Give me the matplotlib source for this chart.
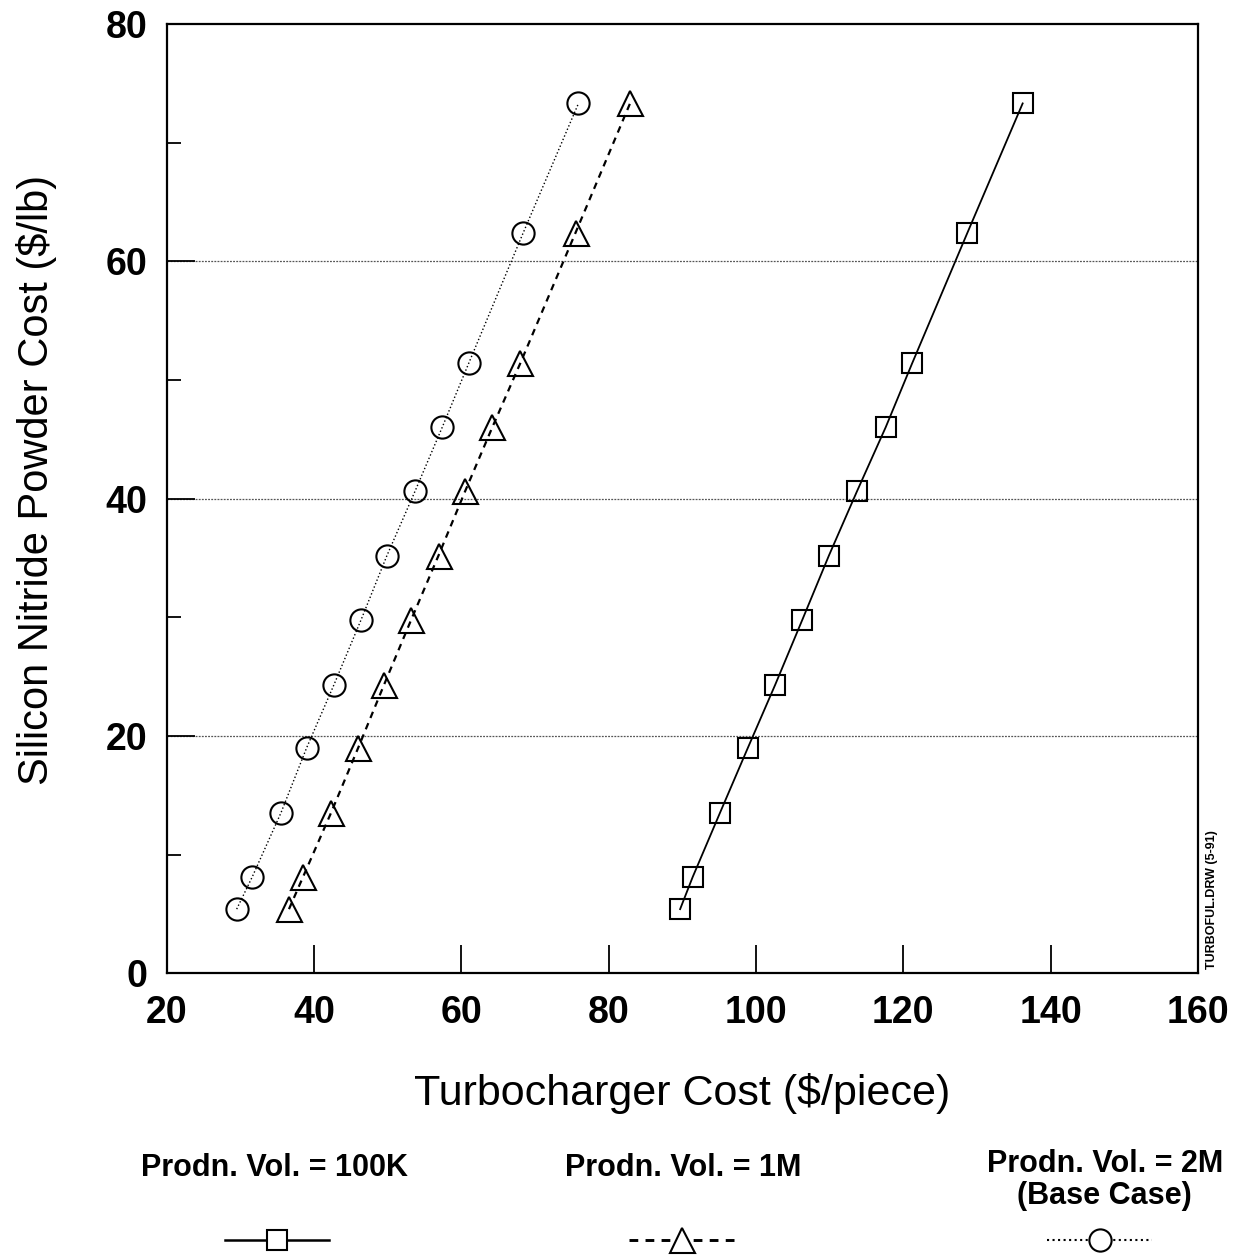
import matplotlib.pyplot as plt
from matplotlib.lines import Line2D
from matplotlib.ticker import MultipleLocator

plt.rcParams['font.family'] = ['Liberation Sans', 'DejaVu Sans']

# silicon nitride powder cost ($/lb), shared by the three series
powder_cost = [5.4, 8.1, 13.5, 19.0, 24.3, 29.8, 35.2, 40.6, 46.0, 51.4, 62.4, 73.3]

# turbocharger cost ($/piece) for each production volume
cost_100k = [89.7, 91.4, 95.1, 98.9, 102.6, 106.3, 109.9, 113.7, 117.6, 121.2, 128.7, 136.2]
cost_1m = [36.6, 38.5, 42.3, 46.0, 49.5, 53.2, 56.9, 60.5, 64.2, 68.0, 75.5, 82.9]
cost_2m = [29.5, 31.6, 35.5, 39.0, 42.7, 46.4, 49.9, 53.7, 57.4, 61.0, 68.4, 75.9]

styles = [
    (cost_100k, '-', 's', 1.3, 14),
    (cost_1m, (0, (3, 2.5)), '^', 1.6, 18),
    (cost_2m, ':', 'o', 1.0, 16),
]

fig = plt.figure(figsize=(12.44, 12.59), dpi=100)
ax = fig.add_axes([0.134, 0.227, 0.829, 0.754])

for xs, ls, mk, lw, ms in styles:
    ax.plot(xs, powder_cost, color='black', linestyle=ls, linewidth=lw,
            marker=mk, markersize=ms, markerfacecolor='none',
            markeredgecolor='black', markeredgewidth=1.5)

ax.set_xlim(20, 160)
ax.set_ylim(0, 80)
ax.xaxis.set_major_locator(MultipleLocator(20))
ax.yaxis.set_major_locator(MultipleLocator(20))
ax.yaxis.set_minor_locator(MultipleLocator(10))
ax.tick_params(axis='both', which='major', direction='in', length=20, width=1.3,
               labelsize=27)
ax.tick_params(axis='x', pad=16)
ax.tick_params(axis='y', pad=14)
ax.tick_params(axis='y', which='minor', direction='in', length=10, width=1.3)
for lab in ax.get_xticklabels() + ax.get_yticklabels():
    lab.set_fontweight('bold')
for sp in ax.spines.values():
    sp.set_linewidth(1.6)

for g in [20, 40, 60]:
    ax.axhline(g, color='#555555', linestyle=(0, (1.5, 1)), linewidth=0.9, zorder=0)

ax.set_xlabel('Turbocharger Cost ($/piece)', fontsize=31, labelpad=30)
ax.set_ylabel('Silicon Nitride Powder Cost ($/lb)', fontsize=30)
ax.yaxis.set_label_coords(-0.106, 0.52)

fig.text(0.974, 0.23, 'TURBOFUL.DRW (5-91)', rotation=90, fontsize=9,
         fontweight='bold', ha='center', va='bottom')

# legend drawn below the axes: label above, line sample below
leg_labels = ['Prodn. Vol. = 100K', 'Prodn. Vol. = 1M', 'Prodn. Vol. = 2M\n(Base Case)']
leg_x = [0.221, 0.549, 0.888]
leg_y = [0.0723, 0.0723, 0.0627]
sample_x = [0.2227, 0.548, 0.884]
for (xs, ls, mk, lw, ms), lab, cx, cy, sx in zip(styles, leg_labels, leg_x, leg_y, sample_x):
    fig.text(cx, cy, lab, fontsize=22, fontweight='bold', ha='center',
             va='center', linespacing=1.05)
    fig.add_artist(Line2D([sx - 0.042, sx + 0.042], [0.015, 0.015],
                          transform=fig.transFigure, color='black', linestyle=ls,
                          linewidth=lw + 0.5))
    fig.add_artist(Line2D([sx], [0.015], transform=fig.transFigure, marker=mk,
                          markersize=ms, markerfacecolor='white',
                          markeredgecolor='black', markeredgewidth=1.5))

fig.savefig('out.png', dpi=100)
